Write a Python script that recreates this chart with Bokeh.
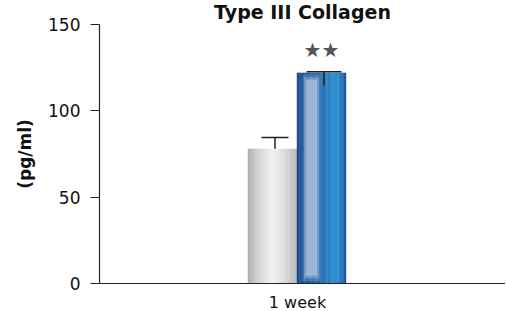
import numpy as np
from bokeh.plotting import figure
from bokeh.models import Range1d, FixedTicker, ColumnDataSource
from bokeh.core.properties import value
from bokeh.embed import file_html
from bokeh.resources import INLINE

# ---- data ----
categories = ["1 week"]
series = ["Control", "Treatment"]
means = [78, 122]
err_low = [78, 114.5]
err_high = [84.5, 122.6]
significance = ["", "★★"]
sig_y = [0, 135.5]
y_ticks = [0, 50, 100, 150]
title_text = "Type III Collagen"
y_label = "(pg/ml)"

# ---- layout ----
FW, FH = 406, 259
FONT = "DejaVu Sans"
p = figure(frame_width=FW, frame_height=FH, output_backend="svg", toolbar_location=None,
           x_range=Range1d(-198 / FW, 208 / FW), y_range=Range1d(0, 150),
           min_border_left=99, min_border_right=0, min_border_top=21, min_border_bottom=27,
           title=title_text)
p.outline_line_color = None
p.xgrid.visible = False
p.ygrid.visible = False
p.background_fill_color = "white"
p.border_fill_color = "white"

p.title.align = "center"
p.title.offset = -6
p.title.standoff = 0
p.title.vertical_align = "top"
p.title.text_font = FONT
p.title.text_font_size = "19px"
p.title.text_font_style = "bold"
p.title.text_color = "#111111"

px = 1.0 / FW
bar_w = 49 * px
offsets = [-25 * px, 24 * px]
cap_w = [27 * px, 35 * px]

def hex2rgb(h):
    h = h.lstrip("#")
    return [int(h[i:i + 2], 16) for i in (0, 2, 4)]

def gradient(stops, n):
    pos = np.array([s[0] for s in stops])
    cols = np.array([hex2rgb(s[1]) for s in stops], dtype=float)
    t = (np.arange(n) + 0.5) / n
    out = []
    for tt in t:
        r, g, b = (np.interp(tt, pos, cols[:, k]) for k in range(3))
        out.append("#%02x%02x%02x" % (int(r), int(g), int(b)))
    return out

grad_stops = [
    [(0.0, "#acacac"), (0.2, "#d2d2d2"), (0.5, "#f3f3f3"), (0.7, "#e2e2e2"), (1.0, "#b9b9b9")],
    [(0.0, "#1b4a88"), (0.12, "#22589c"), (0.45, "#2668aa"), (0.6, "#2a7ec0"),
     (0.8, "#2b8fd0"), (0.9, "#2a80c2"), (1.0, "#1d4f8e")],
]

N = 40
for ci, cat in enumerate(categories):
    for si, s in enumerate(series):
        c = ci + offsets[si]
        cols = gradient(grad_stops[si], N)
        sw = bar_w / N
        xs = [c - bar_w / 2 + (k + 0.5) * sw for k in range(N)]
        src = ColumnDataSource(dict(x=xs, top=[means[si]] * N, color=cols))
        p.vbar(x="x", top="top", bottom=0, width=sw * 1.35, fill_color="color",
               line_color=None, source=src)

# highlight stripe on the treatment bar
hc = 0 + offsets[1] - 10 * px
for w, inset, a in [(18, 1.0, 0.2), (15, 2.5, 0.35), (11, 4.0, 0.5)]:
    p.vbar(x=[hc], top=[means[1] - inset], bottom=[inset + 0.5], width=w * px,
           fill_color="#c2d4e6", fill_alpha=a, line_color=None)

# error bars
for si in range(len(series)):
    c = 0 + offsets[si] + 2.5 * px
    p.segment(x0=[c], y0=[err_low[si]], x1=[c], y1=[err_high[si]],
              line_color="#222222", line_width=1.5)
    p.segment(x0=[c - cap_w[si] / 2], y0=[err_high[si]], x1=[c + cap_w[si] / 2],
              y1=[err_high[si]], line_color="#222222", line_width=1.5)

# significance stars
p.text(x=[0 + offsets[1]], y=[sig_y[1]], text=[significance[1]], text_align="center",
       text_baseline="middle", text_font=value(FONT), text_font_size="20px",
       text_color="#555555")

# axes
p.xaxis.ticker = FixedTicker(ticks=[0])
p.xaxis.major_label_overrides = {0: categories[0]}
p.xaxis.major_tick_out = 0
p.xaxis.major_tick_in = 0
p.xaxis.minor_tick_line_color = None
p.xaxis.major_label_standoff = 9
p.xaxis.major_label_text_font = FONT
p.xaxis.major_label_text_font_size = "16px"
p.xaxis.major_label_text_color = "#111111"
p.xaxis.axis_line_color = "#222222"
p.xaxis.axis_line_width = 1.2

p.yaxis.ticker = FixedTicker(ticks=y_ticks)
p.yaxis.major_tick_out = 9
p.yaxis.major_tick_in = 0
p.yaxis.minor_tick_line_color = None
p.yaxis.major_tick_line_color = "#222222"
p.yaxis.major_label_standoff = 10
p.yaxis.major_label_text_font = FONT
p.yaxis.major_label_text_font_size = "17px"
p.yaxis.major_label_text_color = "#111111"
p.yaxis.axis_line_color = "#222222"
p.yaxis.axis_line_width = 1.2
p.yaxis.axis_label = y_label
p.yaxis.axis_label_standoff = 10
p.yaxis.axis_label_text_font = FONT
p.yaxis.axis_label_text_font_size = "17px"
p.yaxis.axis_label_text_font_style = "bold"
p.yaxis.axis_label_text_color = "#111111"

open("out.html", "w").write(file_html(p, INLINE))
